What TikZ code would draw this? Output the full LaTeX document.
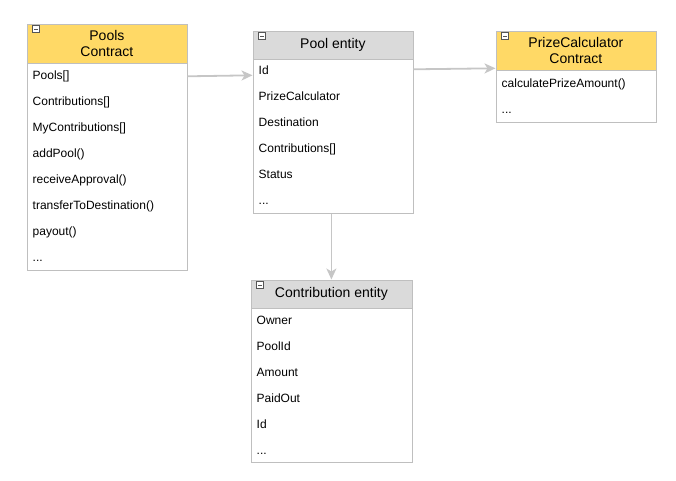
\documentclass[tikz,border=0pt]{standalone}
\usepackage{fontspec}
\setmainfont{Liberation Sans}
\usetikzlibrary{arrows.meta,calc}

\definecolor{hdryellow}{HTML}{FFD966}
\definecolor{hdrgray}{HTML}{DADADA}
\definecolor{boxline}{HTML}{BFBFBF}
\definecolor{linkgray}{HTML}{C6C6C6}
\definecolor{icongray}{HTML}{555555}

\tikzset{
  hdr/.style={draw=boxline, line width=0.8pt, anchor=north west, inner sep=0pt,
    align=center, font=\fontsize{14}{16}\selectfont},
  bodybox/.style={draw=boxline, line width=0.8pt, fill=white, anchor=north west, inner sep=0pt},
  item/.style={anchor=base west, inner sep=0pt, font=\fontsize{12}{14}\selectfont},
  link/.style={draw=linkgray, line width=1.8pt,
    -{Stealth[length=11pt,width=10pt,inset=3pt]}},
  collapse/.style={draw=icongray, line width=0.5pt, fill=white}
}

% placeholder row for omitted members
\newcommand\moremembers{...}

% #1 name, #2 x, #3 y, #4 width, #5 header height, #6 body height, #7 fill, #8 title
\newcommand\umlclass[8]{%
  \node[hdr, fill=#7, minimum width=#4, minimum height=#5] (#1H) at (#2,#3) {#8};
  \node[bodybox, minimum width=#4, minimum height=#6] (#1B) at (#1H.south west) {};
  \draw[collapse] ($(#1H.north west)+(6,2)$) rectangle ++(7,7);
  \draw[icongray, line width=0.9pt] ($(#1H.north west)+(7.5,5.5)$) -- ++(4,0);
}

\begin{document}
\begin{tikzpicture}[x=1pt,y=-1pt]
\useasboundingbox (0,0) rectangle (676,480);

% Pools contract
\umlclass{pools}{26.5}{23.5}{160}{39}{207}{hdryellow}{Pools\\Contract}
\foreach \txt [count=\i] in {Pools[],Contributions[],MyContributions[],addPool(),receiveApproval(),transferToDestination(),payout(),\moremembers}
  \node[item] at (32.5,{79.5+(\i-1)*26}) {\txt};

% Pool entity
\umlclass{pool}{252.5}{30.5}{160}{28}{154}{hdrgray}{Pool entity}
\foreach \txt [count=\i] in {Id,PrizeCalculator,Destination,Contributions[],Status,\moremembers}
  \node[item] at (258.5,{74.5+(\i-1)*26}) {\txt};

% PrizeCalculator contract
\umlclass{prize}{495.5}{30.5}{160}{39}{52}{hdryellow}{PrizeCalculator\\Contract}
\foreach \txt [count=\i] in {calculatePrizeAmount(),\moremembers}
  \node[item] at (501.5,{87.5+(\i-1)*26}) {\txt};

% Contribution entity
\umlclass{contrib}{250.5}{279.5}{161}{28}{154}{hdrgray}{Contribution entity}
\foreach \txt [count=\i] in {Owner,PoolId,Amount,PaidOut,Id,\moremembers}
  \node[item] at (256.5,{324.5+(\i-1)*26}) {\txt};

% Associations
\coordinate (a0) at ($(poolsB.north east)+(0,13)$);
\coordinate (a1) at ($(poolB.north west)+(0,16)$);
\coordinate (b0) at ($(poolB.north east)+(0,10)$);
\coordinate (b1) at ($(prizeH.south west)+(0,-2)$);
\coordinate (c0) at (contribH.north |- poolB.south);
\path[link] (a0) -- (a1);
\path[link] (b0) -- (b1);
\path[link] (c0) -- (contribH.north);
\end{tikzpicture}
\end{document}
